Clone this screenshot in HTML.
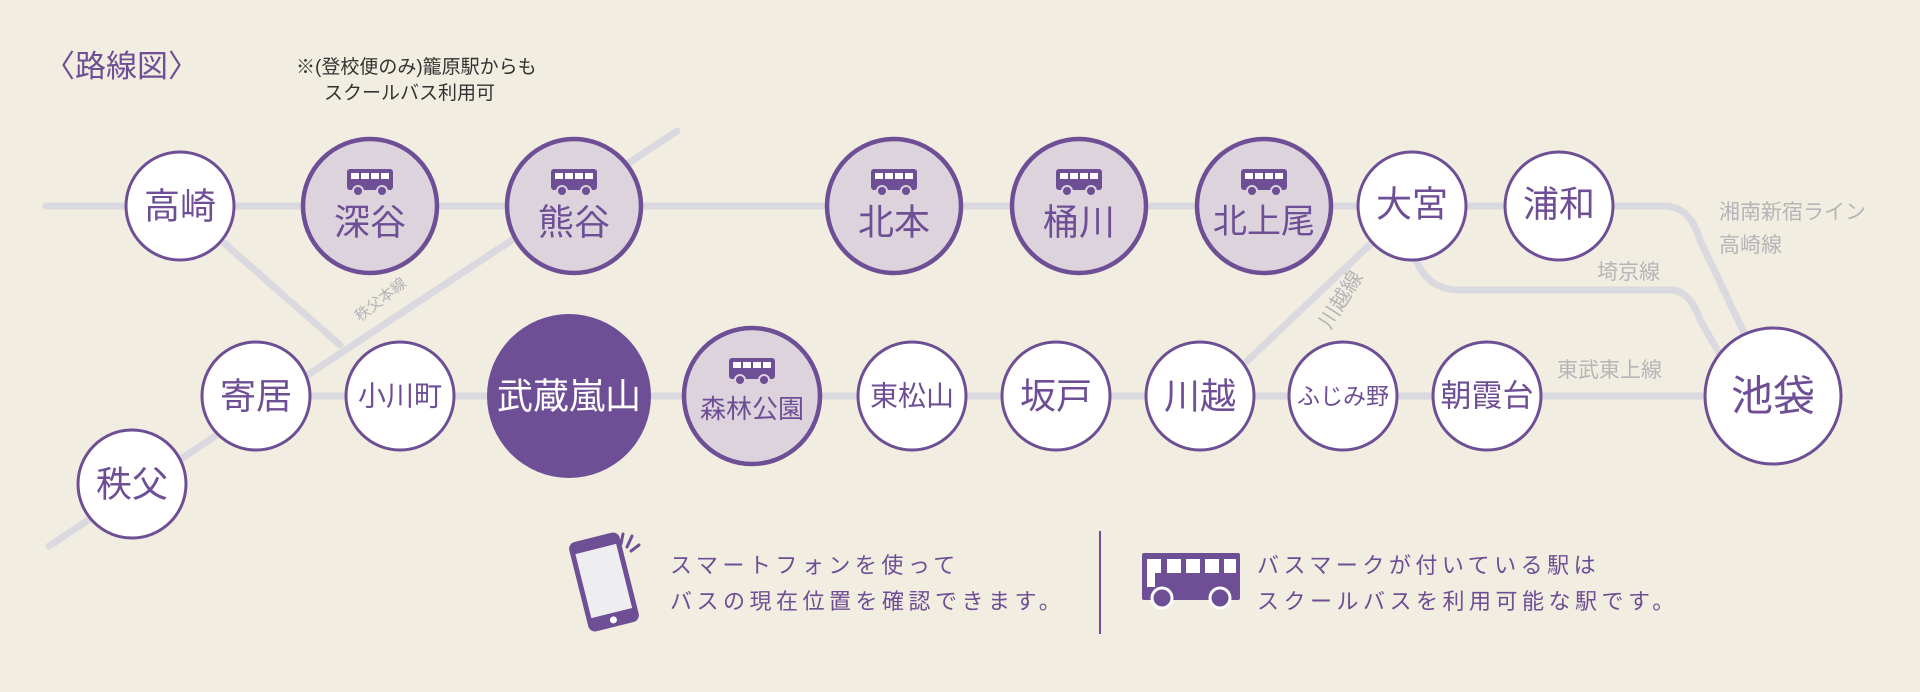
<!DOCTYPE html>
<html><head><meta charset="utf-8"><style>
html,body{margin:0;padding:0;background:#f1ede0;}
svg{display:block;}
text{font-family:"Liberation Sans","Noto Sans CJK JP",sans-serif;}
</style></head><body>
<svg width="1920" height="692" viewBox="0 0 1920 692" xmlns="http://www.w3.org/2000/svg">
<defs>
<g id="bus">
<rect x="-23" y="-13" width="46" height="21" rx="3" fill="#6e4e94"/>
<rect x="-19" y="-9" width="8" height="6" fill="#fff"/>
<rect x="-9" y="-9" width="8" height="6" fill="#fff"/>
<rect x="1" y="-9" width="8" height="6" fill="#fff"/>
<rect x="11" y="-9" width="8" height="6" fill="#fff"/>
<circle cx="-12" cy="9" r="5" fill="#6e4e94" stroke="#dcd3dc" stroke-width="2"/>
<circle cx="12" cy="9" r="5" fill="#6e4e94" stroke="#dcd3dc" stroke-width="2"/>
</g>
</defs>
<rect width="1920" height="692" fill="#f1ede0"/>
<g fill="none" stroke="#d9d9df" stroke-width="7" stroke-linecap="round" stroke-linejoin="round">
<path d="M46 206 H1664 Q1690 206 1700 240 L1744 333"/>
<path d="M677 131 L49 546"/>
<path d="M224 243 L340 345"/>
<path d="M256 396 H1773"/>
<path d="M1416 260 Q1428 290 1460 290 H1670 Q1690 290 1700 320 L1719 353"/>
<path d="M1245 363 L1380 235"/>
</g>
<g fill="#b5b5b9" font-size="21">
<text x="1719" y="219">湘南新宿ライン</text>
<text x="1719" y="252">高崎線</text>
<text x="1597" y="279">埼京線</text>
<text x="1557" y="377">東武東上線</text>
<text x="0" y="0" transform="translate(1330 330) rotate(-58)">川越線</text>
<text x="0" y="0" font-size="15" transform="translate(360 322) rotate(-38)">秩父本線</text>
</g>
<text x="44" y="77" font-size="31" fill="#6e4e94">〈路線図〉</text>
<text x="296" y="73" font-size="19" fill="#333">※(登校便のみ)籠原駅からも</text>
<text x="324" y="99" font-size="19" fill="#333">スクールバス利用可</text>
<g fill="#fff" stroke="#6e4e94" stroke-width="3">
<circle cx="180" cy="206" r="54"/>
<circle cx="1412" cy="206" r="54"/>
<circle cx="1559" cy="206" r="54"/>
<circle cx="256" cy="396" r="54"/>
<circle cx="400" cy="396" r="54"/>
<circle cx="912" cy="396" r="54"/>
<circle cx="1056" cy="396" r="54"/>
<circle cx="1200" cy="396" r="54"/>
<circle cx="1343" cy="396" r="54"/>
<circle cx="1487" cy="396" r="54"/>
<circle cx="1773" cy="396" r="68"/>
<circle cx="132" cy="484" r="54"/>
</g>
<g fill="#dcd3dc" stroke="#6e4e94" stroke-width="4.5">
<circle cx="370" cy="206" r="67"/>
<circle cx="574" cy="206" r="67"/>
<circle cx="894" cy="206" r="67"/>
<circle cx="1079" cy="206" r="67"/>
<circle cx="1264" cy="206" r="67"/>
<circle cx="752" cy="396" r="68"/>
</g>
<circle cx="569" cy="396" r="82" fill="#6e4e94"/>
<use href="#bus" x="370" y="182"/>
<use href="#bus" x="574" y="182"/>
<use href="#bus" x="894" y="182"/>
<use href="#bus" x="1079" y="182"/>
<use href="#bus" x="1264" y="182"/>
<use href="#bus" x="752" y="371"/>
<g fill="#6e4e94" text-anchor="middle" dominant-baseline="central" font-weight="normal">
<text x="180" y="206" font-size="36">高崎</text>
<text x="370" y="222" font-size="36">深谷</text>
<text x="574" y="222" font-size="36">熊谷</text>
<text x="894" y="222" font-size="36">北本</text>
<text x="1079" y="222" font-size="36">桶川</text>
<text x="1264" y="222" font-size="34">北上尾</text>
<text x="1412" y="204" font-size="36">大宮</text>
<text x="1559" y="204" font-size="36">浦和</text>
<text x="256" y="396" font-size="36">寄居</text>
<text x="400" y="396" font-size="28">小川町</text>
<text x="569" y="396" font-size="36" fill="#fff">武蔵嵐山</text>
<text x="752" y="409" font-size="26">森林公園</text>
<text x="912" y="396" font-size="28">東松山</text>
<text x="1056" y="396" font-size="36">坂戸</text>
<text x="1200" y="396" font-size="36">川越</text>
<text x="1343" y="396" font-size="23">ふじみ野</text>
<text x="1487" y="396" font-size="31">朝霞台</text>
<text x="1773" y="396" font-size="42">池袋</text>
<text x="132" y="484" font-size="36">秩父</text>
</g>
<g transform="translate(604 582) rotate(-14)">
<rect x="-26" y="-46" width="52" height="92" rx="7" fill="#6e4e94"/>
<rect x="-21" y="-34" width="42" height="66" fill="#eeeef0"/>
<circle cx="0" cy="39" r="3.5" fill="#fff"/>
</g>
<g stroke="#6e4e94" stroke-width="3" stroke-linecap="round">
<line x1="623" y1="534" x2="621" y2="544"/>
<line x1="632" y1="536" x2="627" y2="547"/>
<line x1="639" y1="545" x2="631" y2="551"/>
</g>
<g fill="#6e4e94" font-size="22" letter-spacing="4.5">
<text x="670" y="573">スマートフォンを使って</text>
<text x="670" y="609">バスの現在位置を確認できます。</text>
<text x="1257" y="573">バスマークが付いている駅は</text>
<text x="1257" y="609">スクールバスを利用可能な駅です。</text>
</g>
<line x1="1100" y1="531" x2="1100" y2="634" stroke="#6e4e94" stroke-width="2"/>
<g transform="translate(1142 553)">
<rect x="0" y="0" width="98" height="47" rx="2" fill="#6e4e94"/>
<rect x="5" y="6" width="14" height="14" fill="#fff"/>
<rect x="25" y="6" width="14" height="14" fill="#fff"/>
<rect x="44" y="6" width="14" height="14" fill="#fff"/>
<rect x="63" y="6" width="14" height="14" fill="#fff"/>
<rect x="82" y="6" width="12" height="14" fill="#fff"/>
<rect x="5" y="20" width="8" height="14" fill="#fff"/>
<circle cx="20" cy="45" r="10" fill="#6e4e94" stroke="#fff" stroke-width="3"/>
<circle cx="78" cy="45" r="10" fill="#6e4e94" stroke="#fff" stroke-width="3"/>
</g>
</svg>
</body></html>
